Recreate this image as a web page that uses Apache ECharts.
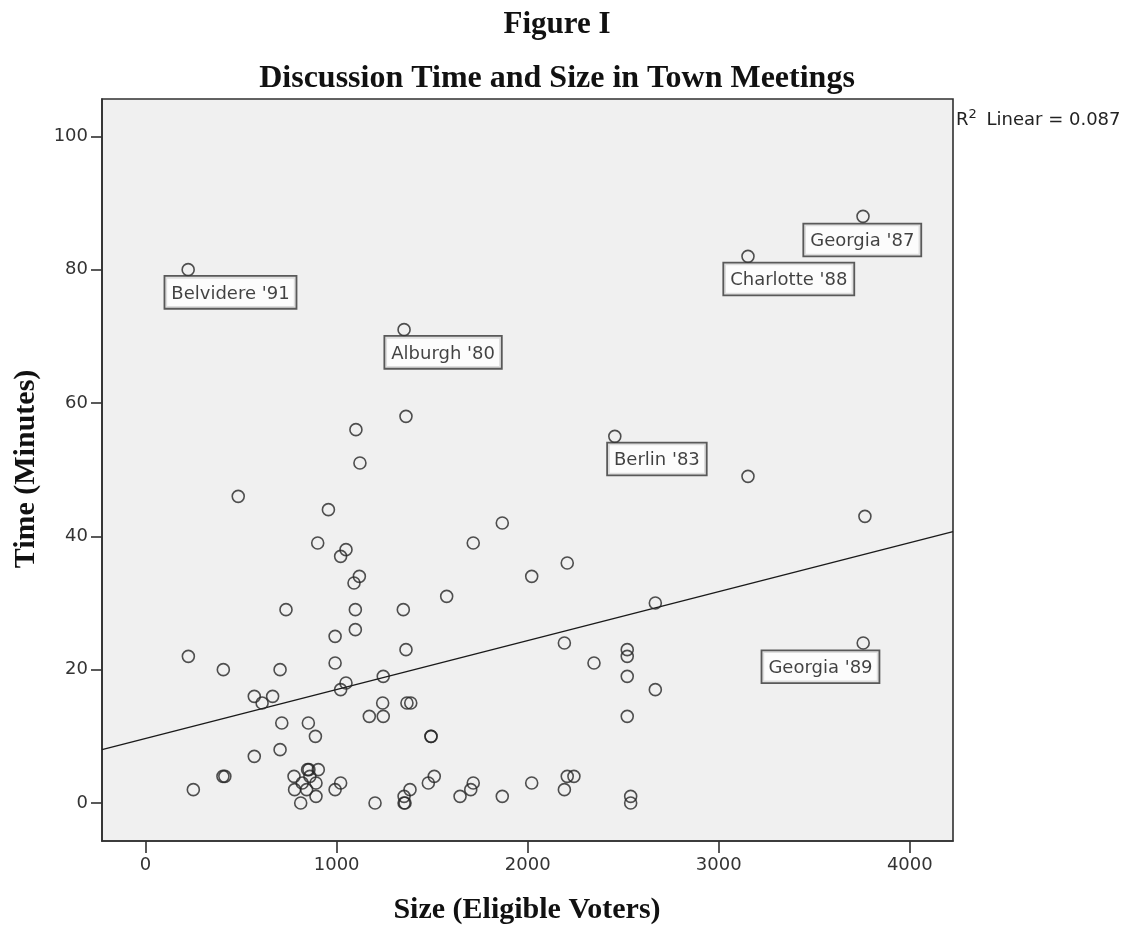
<!DOCTYPE html>
<html>
<head>
<meta charset="utf-8">
<title>Discussion Time and Size in Town Meetings</title>
<script src="https://cdn.jsdelivr.net/npm/echarts@6/dist/echarts.min.js"></script>
<style>
  html, body { margin: 0; padding: 0; background: #ffffff; }
  #chart { width: 1141px; height: 930px; }
</style>
</head>
<body>
<div id="chart"></div>
<script>
// Town meetings: size of the electorate (eligible voters) vs. minutes of discussion
const sizeVoters = [
  485, 957, 901, 1049, 1021, 1119, 1091, 1576, 735, 1098, 1349, 1098, 992, 1363,
  224, 992, 407, 704, 1244, 1049, 1021, 569, 665, 610, 1241, 1368, 1388, 1171,
  1244, 713, 852, 889, 1494, 1494, 569, 704, 250, 405, 415,
  1867, 1715, 2207, 2021, 2668, 2192, 2347, 2521, 2521, 2521, 2668, 2521,
  1511, 1480, 1384, 1353, 1353, 1358, 1646, 1715, 1702, 1867, 2021, 2207, 2242,
  2192, 2539, 2539, 1201, 992, 1021,
  777, 848, 855, 904, 820, 892, 780, 843, 892, 812, 860,
  1363, 1101, 1122, 3153, 3765
];
const timeMinutes = [
  46, 44, 39, 38, 37, 34, 33, 31, 29, 29, 29, 26, 25, 23,
  22, 21, 20, 20, 19, 18, 17, 16, 16, 15, 15, 15, 15, 13,
  13, 12, 12, 10, 10, 10, 7, 8, 2, 4, 4,
  42, 39, 36, 34, 30, 24, 21, 23, 22, 19, 17, 13,
  4, 3, 2, 1, 0, 0, 1, 3, 2, 1, 3, 4, 4,
  2, 1, 0, 0, 2, 3,
  4, 5, 5, 5, 3, 3, 2, 2, 1, 0, 4,
  58, 56, 51, 49, 43
];

// Meetings identified by name
const namedTowns = ["Belvidere '91", "Alburgh '80", "Berlin '83", "Charlotte '88", "Georgia '87", "Georgia '89"];
const namedSize  = [223, 1353, 2456, 3153, 3755, 3756];
const namedTime  = [80, 71, 55, 82, 88, 24];

// Axis ticks
const xTicks = [0, 1000, 2000, 3000, 4000];
const yTicks = [0, 20, 40, 60, 80, 100];

// Least-squares fit line (Time = a + b * Size), R² = 0.087
const FIT_INTERCEPT = 9.69;
const FIT_SLOPE = 0.00734;
const R2_TEXT = '0.087';

// Axis extents
const X_MIN = -228, X_MAX = 4226;
const Y_MIN = -5.7, Y_MAX = 105.6;

// Label box placement relative to its point (px: box left, box top)
const labelOffsets = {
  "Belvidere '91": [-22, 8],
  "Alburgh '80": [-18, 8],
  "Berlin '83": [-6, 8],
  "Charlotte '88": [-23, 8],
  "Georgia '87": [-58, 9],
  "Georgia '89": [-100, 9]
};

const SYMBOL = 12;
const ink = '#262626';
const sansFont = '"DejaVu Sans", "Noto Sans", sans-serif';
const serifFont = '"Liberation Serif", "DejaVu Serif", serif';

const points = sizeVoters.map((x, i) => [x, timeMinutes[i]]);
const namedPoints = namedTowns.map((name, i) => {
  const off = labelOffsets[name];
  return {
    name: name,
    value: [namedSize[i], namedTime[i]],
    label: { position: [off[0] + SYMBOL / 2, off[1] + SYMBOL / 2] }
  };
});
const fitLine = [X_MIN, X_MAX].map(x => [x, FIT_INTERCEPT + FIT_SLOPE * x]);

const circleStyle = { color: 'rgba(0,0,0,0)', borderColor: ink, borderWidth: 1.6 };
const plainNumber = v => String(v);

const chart = echarts.init(document.getElementById('chart'), null, { renderer: 'canvas' });
chart.setOption({
  animation: false,
  backgroundColor: '#ffffff',
  grid: {
    left: 102, right: 188, top: 99, bottom: 89,
    show: true, backgroundColor: '#f0f0f0',
    borderColor: '#303030', borderWidth: 1.6
  },
  xAxis: {
    type: 'value', min: X_MIN, max: X_MAX,
    splitLine: { show: false },
    axisLine: { show: true, onZero: false, lineStyle: { color: '#303030', width: 1.6 } },
    axisTick: { show: true, customValues: xTicks, length: 12, lineStyle: { color: '#303030', width: 1.6 } },
    axisLabel: {
      customValues: xTicks, margin: 15, color: '#333',
      fontFamily: sansFont, fontSize: 18, formatter: plainNumber
    }
  },
  yAxis: {
    type: 'value', min: Y_MIN, max: Y_MAX,
    splitLine: { show: false },
    axisLine: { show: true, onZero: false, lineStyle: { color: '#303030', width: 1.6 } },
    axisTick: { show: true, customValues: yTicks, length: 11, lineStyle: { color: '#303030', width: 1.6 } },
    axisLabel: {
      customValues: yTicks, margin: 14, color: '#333',
      fontFamily: sansFont, fontSize: 18, formatter: plainNumber
    }
  },
  series: [
    {
      type: 'line', data: fitLine, symbol: 'none', silent: true,
      lineStyle: { color: '#1a1a1a', width: 1.4 }, z: 1
    },
    {
      type: 'scatter', data: points, symbol: 'circle', symbolSize: SYMBOL,
      itemStyle: circleStyle, z: 2
    },
    {
      type: 'scatter', data: namedPoints, symbol: 'circle', symbolSize: SYMBOL,
      itemStyle: circleStyle, z: 3,
      label: {
        show: true, formatter: '{b}', align: 'left', verticalAlign: 'top',
        fontFamily: sansFont, fontSize: 18, color: '#111',
        backgroundColor: '#ffffff', borderColor: '#333', borderWidth: 1.8,
        padding: [8, 6, 5, 6]
      },
      labelLayout: { hideOverlap: false }
    }
  ],
  graphic: [
    {
      type: 'text', x: 557, y: 25,
      style: { text: 'Figure I', font: 'bold 31px ' + serifFont, fill: '#111', align: 'center', verticalAlign: 'middle' }
    },
    {
      type: 'text', x: 557, y: 79,
      style: { text: 'Discussion Time and Size in Town Meetings', font: 'bold 32px ' + serifFont, fill: '#111', align: 'center', verticalAlign: 'middle' }
    },
    {
      type: 'text', x: 527, y: 910,
      style: { text: 'Size (Eligible Voters)', font: 'bold 30px ' + serifFont, fill: '#111', align: 'center', verticalAlign: 'middle' }
    },
    {
      type: 'text', x: 26, y: 469, rotation: Math.PI / 2,
      style: { text: 'Time (Minutes)', font: 'bold 30px ' + serifFont, fill: '#111', align: 'center', verticalAlign: 'middle' }
    },
    {
      type: 'text', x: 956, y: 120,
      style: {
        text: 'R{sup|2} Linear = ' + R2_TEXT,
        align: 'left', verticalAlign: 'middle', fill: '#222',
        fontFamily: sansFont, fontSize: 18,
        rich: {
          sup: { fontFamily: sansFont, fontSize: 13, fill: '#222', padding: [0, 4, 10, 0] }
        }
      }
    }
  ]
});
</script>
</body>
</html>
